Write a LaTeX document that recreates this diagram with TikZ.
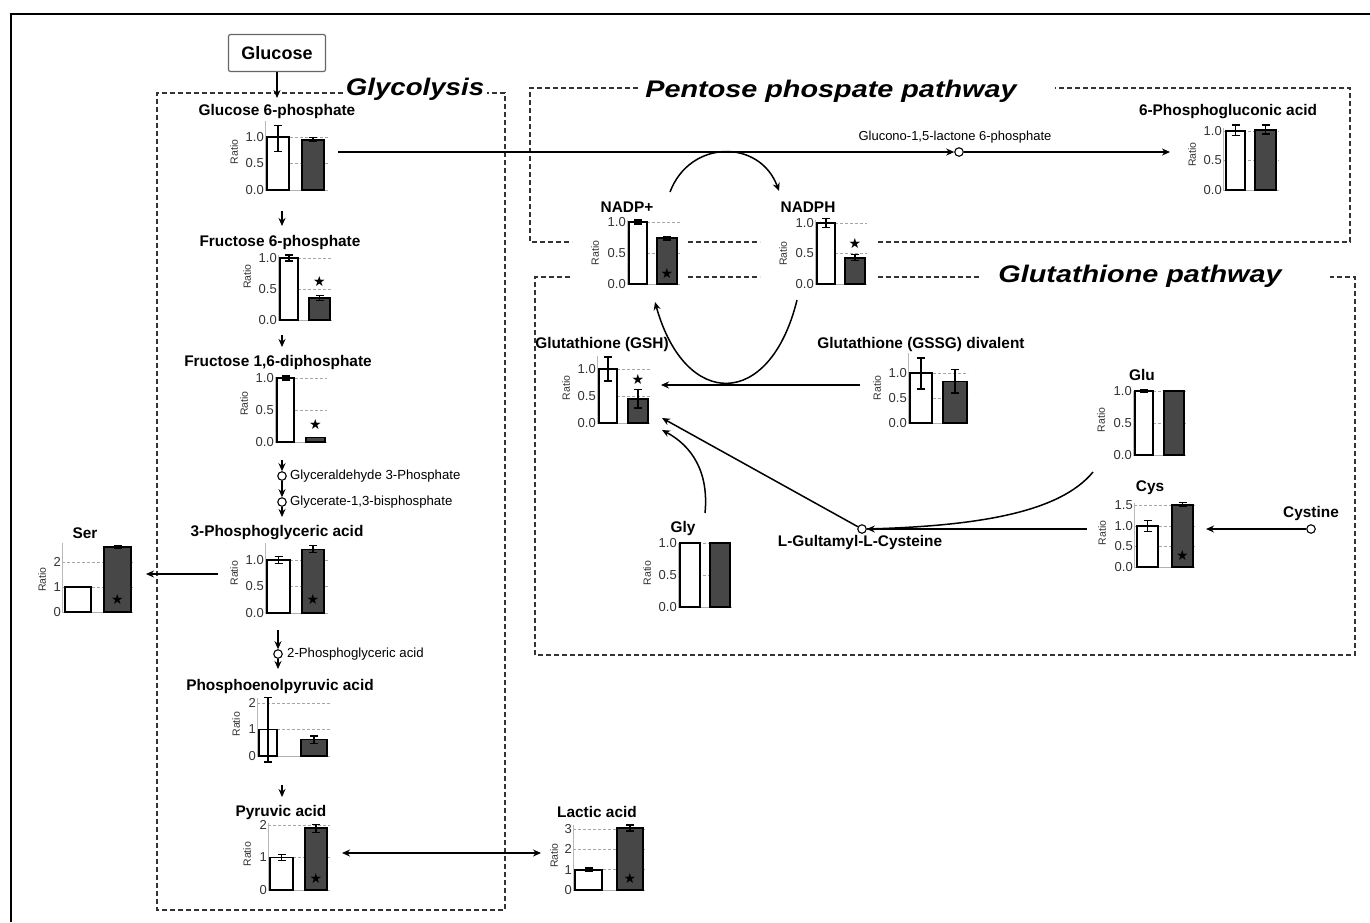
\documentclass[tikz,border=0pt]{standalone}
\usepackage{fontspec}
\setmainfont{Liberation Sans}
\newfontfamily\symf{DejaVu Sans}
\usetikzlibrary{arrows.meta}
\newcount\nc
\newcommand\chart[4]{\begin{scope}[shift={(#1,#2)},y=#3pt]#4\end{scope}}
\newcommand\grid[2]{\foreach \gv in {#2}{\draw[grd] (0,\gv) -- (#1,\gv);}\draw[base0] (0,0) -- (#1,0);}
\newcommand\yax[1]{\draw[axl] (0,0) -- (0,#1);}
\newcommand\wbar[3]{\draw[wb] (#1,0) rectangle (#2,#3);}
\newcommand\dbar[3]{\draw[db] (#1,0) rectangle (#2,#3);}
\newcommand\err[3]{\draw[eb] (#1-4,#2) -- (#1+4,#2) (#1,#2) -- (#1,#3) (#1-4,#3) -- (#1+4,#3);}
\newcommand\tk[2]{\global\advance\nc by 1 \node[ticklab] (t\the\nc) at (0,#1) {#2};}
\newcommand\rat[2]{\global\advance\nc by 1 \node[ratiolab] (r\the\nc) at (#1,#2) {Ratio};}
\newcommand\st[2]{\global\advance\nc by 1 \node[starn] (s\the\nc) at (#1,#2) {★};}
\newcommand\tkhalf{\tk{0}{0.0}\tk{0.5}{0.5}\tk{1}{1.0}}
\tikzset{
 frame/.style={line width=2.4pt},
 boxd/.style={line width=1.2pt, dash pattern=on 5pt off 3pt, black!80},
 grd/.style={gray!70, line width=0.8pt, dash pattern=on 3pt off 2pt},
 base0/.style={gray!60, line width=0.8pt},
 axl/.style={gray!55, line width=1pt},
 wb/.style={draw=black, fill=white, line width=1.8pt},
 db/.style={draw=black, fill=black!72, line width=1.8pt},
 eb/.style={black, line width=1.3pt},
 ticklab/.style={anchor=east, inner sep=1pt, font=\fontsize{13}{13}\selectfont, text=black!80},
 ratiolab/.style={rotate=90, inner sep=0pt, font=\fontsize{10.5}{10.5}\selectfont, text=black!80},
 ttl/.style={font=\bfseries\fontsize{15.4}{17}\selectfont, inner sep=1pt},
 small/.style={font=\fontsize{13.2}{15}\selectfont, inner sep=1pt, anchor=west},
 bigt/.style={font=\bfseries\itshape\fontsize{24}{26}\selectfont, inner sep=0pt, anchor=base, xscale=1.2},
 arr/.style={-{Stealth[length=8pt,width=7pt]}, line width=1.5pt},
 dbl/.style={{Stealth[length=8pt,width=7pt]}-{Stealth[length=8pt,width=7pt]}, line width=1.5pt},
 dot/.style={circle, draw=black, fill=white, line width=1.1pt, minimum size=8.5pt, inner sep=0pt},
 starn/.style={font=\symf\fontsize{14}{14}\selectfont, inner sep=0pt},
}
\begin{document}
\begin{tikzpicture}[x=1pt,y=-1pt]
\useasboundingbox (0,0) rectangle (1370,922);
\fill[white] (0,0) rectangle (1370,922);
\draw[frame] (11,922) -- (11,14) -- (1370,14);
% dashed boxes
\draw[boxd] (343,93) -- (157,93) -- (157,910) -- (505,910) -- (505,93) -- (487,93);
\draw[boxd] (638,88) -- (530,88) -- (530,242) -- (572,242) (688,242) -- (760,242) (878,242) -- (1350,242) -- (1350,88) -- (1055,88);
\draw[boxd] (570,277) -- (535,277) -- (535,655) -- (1355,655) -- (1355,277) -- (1330,277) (688,277) -- (760,277) (878,277) -- (980,277);
% titles
\node[bigt, xscale=0.96] (tglyc) at (415,95) {Glycolysis};
\node[bigt] (tppp) at (831,97) {Pentose phospate pathway};
\node[bigt] (tglut) at (1140,282) {Glutathione pathway};
% glucose
\node[draw=black!60, line width=1.2pt, rounded corners=2pt, minimum width=97pt, minimum height=37pt, font=\bfseries\fontsize{18}{20}\selectfont] (gluc) at (277,53) {Glucose};
\coordinate (g6pTop) at (277,98);
\draw[arr] (gluc.south) -- (g6pTop);
% metabolite titles
\node[ttl] (lg6p) at (277,112) {Glucose 6-phosphate};
\node[ttl] (lf6p) at (280,243) {Fructose 6-phosphate};
\node[ttl] (lf16) at (278,363) {Fructose 1,6-diphosphate};
\node[ttl] (l3pg) at (277,533) {3-Phosphoglyceric acid};
\node[ttl] (lpep) at (280,687) {Phosphoenolpyruvic acid};
\node[ttl] (lpyr) at (281,813) {Pyruvic acid};
\node[ttl] (llac) at (597,812) {Lactic acid};
\node[ttl] (lser) at (85,533) {Ser};
\node[ttl] (l6pg) at (1228,112) {6-Phosphogluconic acid};
\node[ttl] (lnadp) at (627,207) {NADP+};
\node[ttl] (lnadph) at (808,207) {NADPH};
\node[ttl] (lgsh) at (602,345) {Glutathione (GSH)};
\node[ttl] (lgssg) at (921,345) {Glutathione (GSSG) divalent};
\node[ttl] (lgly) at (683,529) {Gly};
\node[ttl] (lglu) at (1142,375) {Glu};
\node[ttl] (lcys) at (1150,488) {Cys};
\node[ttl] (llgc) at (860,543) {L-Gultamyl-L-Cysteine};
\node[ttl] (lcysn) at (1311,514) {Cystine};
% glycolysis chain
\coordinate (a1s) at (282,211); \coordinate (a1e) at (282,226);
\draw[arr] (a1s) -- (a1e);
\coordinate (a2s) at (282,335); \coordinate (a2e) at (282,347);
\draw[arr] (a2s) -- (a2e);
\coordinate (a3s) at (282,460);
\node[dot] (dga3p) at (282,476) {};
\node[dot] (dg13) at (282,502) {};
\coordinate (a3e) at (282,517);
\draw[arr] (a3s) -- (dga3p);
\draw[arr] (dga3p) -- (dg13);
\draw[arr] (dg13) -- (a3e);
\node[small] (sga3p) at (289,476) {Glyceraldehyde 3-Phosphate};
\node[small] (sg13) at (289,502) {Glycerate-1,3-bisphosphate};
\coordinate (a4s) at (278,630);
\node[dot] (d2pg) at (278,654) {};
\coordinate (a4e) at (278,669);
\draw[arr] (a4s) -- (d2pg);
\draw[arr] (d2pg) -- (a4e);
\node[small] (s2pg) at (286,654) {2-Phosphoglyceric acid};
\coordinate (a5s) at (282,785); \coordinate (a5e) at (282,797);
\draw[arr] (a5s) -- (a5e);
% 3PG -> Ser
\coordinate (serS) at (218,574); \coordinate (serE) at (146,574);
\draw[arr] (serS) -- (serE);
% Pyr <-> Lactic
\coordinate (pyrR) at (342,853); \coordinate (lacL) at (541,853);
\draw[dbl] (pyrR) -- (lacL);
% G6P -> 6PG
\coordinate (g6pR) at (338,152);
\node[dot] (dgl) at (959,152) {};
\coordinate (pg6L) at (1170,152);
\draw[arr] (g6pR) -- (dgl);
\draw[arr] (dgl) -- (pg6L);
\node[font=\fontsize{13}{15}\selectfont, inner sep=1pt] (sgl) at (955,137) {Glucono-1,5-lactone 6-phosphate};
% NADP cycle
\coordinate (nadpT) at (670,192); \coordinate (nadphT) at (779,191);
\draw[arr] (nadpT) .. controls (690,139) and (760,139) .. (nadphT);
\coordinate (nadphB) at (797,300); \coordinate (nadpB) at (655,302);
\draw[arr] (nadphB) .. controls (770,410) and (685,410) .. (nadpB);
% glutathione arrows
\coordinate (gssgL) at (860,385); \coordinate (gshR1) at (661,385);
\draw[arr] (gssgL) -- (gshR1);
\coordinate (glyT) at (705,513); \coordinate (gshR3) at (662,430);
\draw[arr] (glyT) .. controls (709,472) and (692,446) .. (gshR3);
\node[dot] (dlgc) at (862,529) {};
\coordinate (gshR2) at (662,418);
\draw[arr] (dlgc) -- (gshR2);
\coordinate (cysL) at (1087,529);
\draw[arr] (cysL) -- (dlgc);
\coordinate (gluB) at (1093,472);
\draw[line width=1.5pt] (gluB) .. controls (1060,512) and (980,526) .. (dlgc.east);
\node[dot] (dcysn) at (1311,529) {};
\coordinate (cysR) at (1206,529);
\draw[arr] (dcysn) -- (cysR);
% charts
\chart{265}{190}{53}{\grid{63}{0.5,1}\yax{1.3}\wbar{2}{24}{1}\dbar{37}{59}{0.95}\err{13}{0.73}{1.22}\err{48}{0.92}{0.99}\tkhalf\rat{-31}{0.72}}
\chart{278}{320}{62}{\grid{54}{0.5,1}\yax{1.05}\wbar{2}{20}{1}\dbar{31}{52}{0.35}\err{11}{0.95}{1.05}\err{41.5}{0.32}{0.39}\st{41.5}{0.62}\tkhalf\rat{-31}{0.7}}
\chart{275}{442}{64}{\grid{52}{0.5,1}\yax{1.02}\wbar{2}{19}{1}\dbar{31}{50}{0.07}\err{10.5}{0.97}{1.03}\st{40.5}{0.27}\tkhalf\rat{-31}{0.6}}
\chart{265}{613}{53}{\grid{63}{0.5,1}\yax{1.33}\wbar{2}{25}{1}\dbar{37}{59}{1.2}\err{13.5}{0.93}{1.07}\err{48}{1.14}{1.27}\st{48}{0.25}\tkhalf\rat{-31}{0.75}}
\chart{257}{756}{26.5}{\grid{73}{1,2}\yax{2.2}\wbar{2}{20}{1}\dbar{44}{70}{0.62}\err{11}{-0.23}{2.2}\err{57}{0.48}{0.75}\tk{0}{0}\tk{1}{1}\tk{2}{2}\rat{-21}{1.2}}
\chart{268}{890}{32.5}{\grid{62}{1,2}\yax{2.05}\wbar{2}{25}{1}\dbar{37}{59}{1.9}\err{13.5}{0.9}{1.1}\err{48}{1.78}{2.02}\st{48}{0.35}\tk{0}{0}\tk{1}{1}\tk{2}{2}\rat{-21}{1.1}}
\chart{573}{890}{20.3}{\grid{72}{1,2,3}\yax{3.2}\wbar{2}{29}{1}\dbar{44}{70}{3.05}\err{15.5}{0.92}{1.08}\err{57}{2.9}{3.2}\st{57}{0.55}\tk{0}{0}\tk{1}{1}\tk{2}{2}\tk{3}{3}\rat{-19}{1.7}}
\chart{62}{612}{25}{\grid{71}{1,2}\yax{2.75}\wbar{3}{29}{1}\dbar{42}{69}{2.6}\err{16}{0.97}{1.03}\err{55.5}{2.56}{2.64}\st{55.5}{0.5}\tk{0}{0}\tk{1}{1}\tk{2}{2}\rat{-20}{1.3}}
\chart{1223}{190}{59}{\grid{56}{0.5,1}\yax{1.05}\wbar{3}{22}{1}\dbar{32}{53}{1.02}\err{12.5}{0.92}{1.1}\err{42.5}{0.95}{1.1}\tkhalf\rat{-31}{0.6}}
\chart{627}{284}{62}{\grid{53}{0.5,1}\yax{1.03}\wbar{2}{20}{1}\dbar{30}{50}{0.74}\err{11}{0.97}{1.03}\err{40}{0.71}{0.77}\st{40}{0.17}\tkhalf\rat{-32}{0.5}}
\chart{815}{284}{61}{\grid{52}{0.5,1}\yax{1.05}\wbar{2}{20}{1}\dbar{30}{50}{0.43}\err{11}{0.93}{1.07}\err{40}{0.38}{0.48}\st{40}{0.67}\tkhalf\rat{-32}{0.5}}
\chart{597}{423}{54}{\grid{53}{0.5,1}\yax{1.25}\wbar{2}{20}{1}\dbar{31}{51}{0.45}\err{11}{0.78}{1.22}\err{41}{0.28}{0.62}\st{41}{0.8}\tkhalf\rat{-31}{0.65}}
\chart{908}{423}{50}{\grid{60}{0.5,1}\yax{1.4}\wbar{2}{24}{1}\dbar{35}{59}{0.83}\err{13}{0.68}{1.3}\err{47}{0.6}{1.07}\tkhalf\rat{-31}{0.7}}
\chart{678}{607}{64}{\grid{54}{0.5,1}\yax{1}\wbar{2}{22}{1}\dbar{32}{52}{1}\err{12}{0.99}{1.01}\err{42}{0.99}{1.01}\tkhalf\rat{-31}{0.53}}
\chart{1133}{455}{64}{\grid{53}{0.5,1}\yax{1}\wbar{2}{20}{1}\dbar{31}{51}{1}\err{11}{0.98}{1.02}\tkhalf\rat{-32}{0.55}}
\chart{1134}{567}{41}{\grid{61}{0.5,1,1.5}\yax{1.55}\wbar{3}{24}{1}\dbar{38}{59}{1.52}\err{13.5}{0.87}{1.13}\err{48.5}{1.47}{1.58}\st{48.5}{0.27}\tk{0}{0.0}\tk{0.5}{0.5}\tk{1}{1.0}\tk{1.5}{1.5}\rat{-32}{0.83}}
\end{tikzpicture}
\end{document}
